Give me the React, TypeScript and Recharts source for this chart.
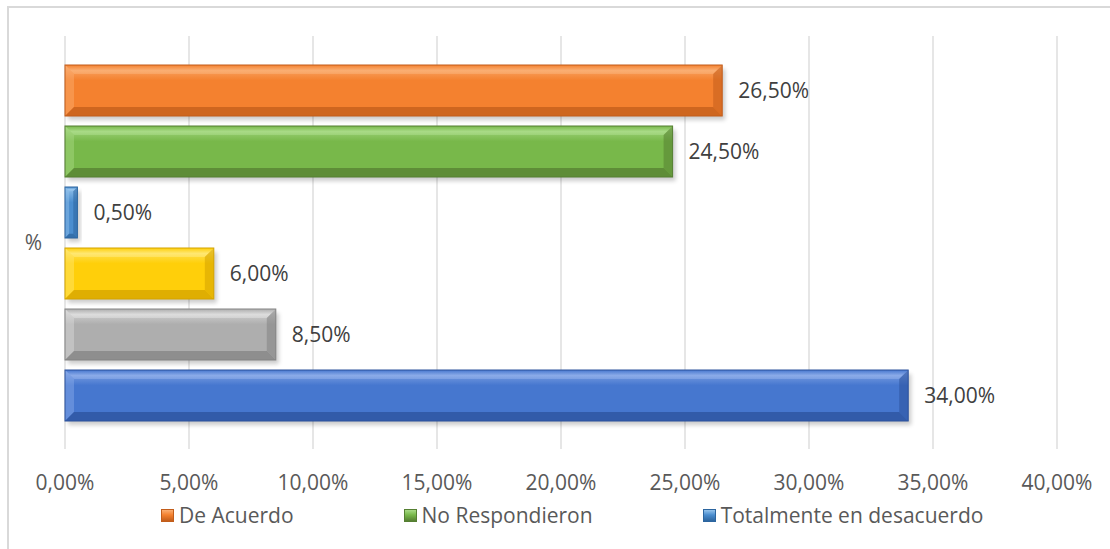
import React from "react";
import {
  BarChart,
  Bar,
  XAxis,
  YAxis,
  CartesianGrid,
  Legend,
  LabelList,
} from "recharts";

const categories = ["%"];
const seriesNames = [
  "De Acuerdo",
  "No Respondieron",
  "Totalmente en desacuerdo",
  "En desacuerdo",
  "Ni de acuerdo ni en desacuerdo",
  "Totalmente de acuerdo",
];
const seriesValues = [0.265, 0.245, 0.005, 0.06, 0.085, 0.34];
const legendSeries = ["De Acuerdo", "No Respondieron", "Totalmente en desacuerdo"];
const xTicks = [0, 0.05, 0.1, 0.15, 0.2, 0.25, 0.3, 0.35, 0.4];

const TONES = [
  { base: "#F4812F", light: "#FAAE72", dark: "#C25D1B" },
  { base: "#78B84A", light: "#A8DA86", dark: "#557F32" },
  { base: "#4A8DCF", light: "#94C3EC", dark: "#2C659F" },
  { base: "#FFCF0A", light: "#FFE771", dark: "#D4A300" },
  { base: "#AEAEAE", light: "#DCDCDC", dark: "#838383" },
  { base: "#4677CF", light: "#8AAAE8", dark: "#2C529C" },
];

const FONT = "'Open Sans', 'DejaVu Sans', sans-serif";
const TEXT = "#595959";

const data = categories.map((c) => {
  const row: Record<string, string | number> = { category: c };
  seriesNames.forEach((n, i) => (row[n] = seriesValues[i]));
  return row;
});

const pct = (v: number) => (v * 100).toFixed(2).replace(".", ",") + "%";

function BevelBar(props: any) {
  const { x, y, width, height, tone, idx } = props;
  if (!width || !height) return null;
  const b = Math.min(9, width / 3, height / 3);
  const r = x + width;
  const btm = y + height;
  return (
    <g>
      <rect x={x + 3} y={y + 4} width={width} height={height} fill="#000" opacity={0.2} filter="url(#barShadow)" />
      <rect x={x} y={y} width={width} height={height} fill={`url(#face${idx})`} />
      <polygon points={`${x},${y} ${r},${y} ${r - b},${y + b} ${x + b},${y + b}`} fill={`url(#top${idx})`} />
      <polygon points={`${x},${y} ${x + b},${y + b} ${x + b},${btm - b} ${x},${btm}`} fill={tone.light} opacity={0.45} />
      <polygon points={`${r},${y} ${r - b},${y + b} ${r - b},${btm - b} ${r},${btm}`} fill={tone.dark} opacity={0.55} />
      <polygon points={`${x},${btm} ${r},${btm} ${r - b},${btm - b} ${x + b},${btm - b}`} fill={tone.dark} opacity={0.75} />
      <rect x={x} y={y} width={width} height={height} fill="none" stroke={tone.dark} strokeWidth={1} />
    </g>
  );
}

function LegendContent(props: any) {
  const items = (props.payload || []).filter((p: any) => legendSeries.includes(p.value));
  return (
    <div style={{ height: 34, display: "flex", alignItems: "center", paddingLeft: 161, gap: 110, fontFamily: FONT, fontSize: 21, color: TEXT }}>
      {items.map((p: any) => {
        const tone = TONES[seriesNames.indexOf(p.value)];
        return (
          <span key={p.value} style={{ display: "flex", alignItems: "center", gap: 5 }}>
            <span
              style={{
                width: 13,
                height: 13,
                boxSizing: "border-box",
                border: `1px solid ${tone.dark}`,
                background: `linear-gradient(180deg, ${tone.light} 0%, ${tone.base} 45%, ${tone.dark} 100%)`,
              }}
            />
            {p.value}
          </span>
        );
      })}
    </div>
  );
}

export default function App() {
  return (
    <div style={{ position: "absolute", left: 0, top: 0, width: 1110, height: 549, background: "#fff", overflow: "hidden" }}>
      <div style={{ position: "absolute", left: 7, top: 6, width: 1200, height: 700, border: "2px solid #D9D9D9", boxSizing: "border-box" }} />
      <BarChart
        width={1110}
        height={549}
        data={data}
        layout="vertical"
        margin={{ top: 36, right: 53, bottom: 17, left: 0 }}
        barCategoryGap={29}
        barGap={10}
        style={{ position: "absolute", left: 0, top: 0 }}
      >
        <defs>
          <filter id="barShadow" x="-10%" y="-30%" width="120%" height="160%">
            <feGaussianBlur stdDeviation="2" />
          </filter>
          {TONES.map((t, i) => (
            <linearGradient key={`f${i}`} id={`face${i}`} x1="0" y1="0" x2="0" y2="1">
              <stop offset="0%" stopColor={t.light} />
              <stop offset="30%" stopColor={t.base} />
              <stop offset="100%" stopColor={t.base} />
            </linearGradient>
          ))}
          {TONES.map((t, i) => (
            <linearGradient key={`t${i}`} id={`top${i}`} x1="0" y1="0" x2="0" y2="1">
              <stop offset="0%" stopColor={t.base} />
              <stop offset="60%" stopColor={t.light} />
              <stop offset="100%" stopColor={t.light} stopOpacity={0.6} />
            </linearGradient>
          ))}
        </defs>
        <CartesianGrid horizontal={false} stroke="#D9D9D9" strokeWidth={1.3} />
        <XAxis
          type="number"
          domain={[0, 0.4]}
          ticks={xTicks}
          tickFormatter={pct}
          axisLine={false}
          tickLine={false}
          tickMargin={20}
          height={49}
          tick={{ fill: TEXT, fontSize: 21, fontFamily: FONT }}
        />
        <YAxis
          type="category"
          dataKey="category"
          width={65}
          axisLine={false}
          tickLine={false}
          tickMargin={17}
          tick={{ fill: TEXT, fontSize: 21, fontFamily: FONT }}
        />
        <Legend verticalAlign="bottom" content={<LegendContent />} />
        {seriesNames.map((name, i) => (
          <Bar
            key={name}
            dataKey={name}
            name={name}
            fill={TONES[i].base}
            isAnimationActive={false}
            legendType={legendSeries.includes(name) ? "square" : "none"}
            shape={(p: any) => <BevelBar {...p} tone={TONES[i]} idx={i} />}
          >
            <LabelList
              dataKey={name}
              position="right"
              offset={16}
              formatter={(v: any) => pct(Number(v))}
              style={{ fill: "#404040", fontSize: 21, fontFamily: FONT }}
            />
          </Bar>
        ))}
      </BarChart>
    </div>
  );
}
